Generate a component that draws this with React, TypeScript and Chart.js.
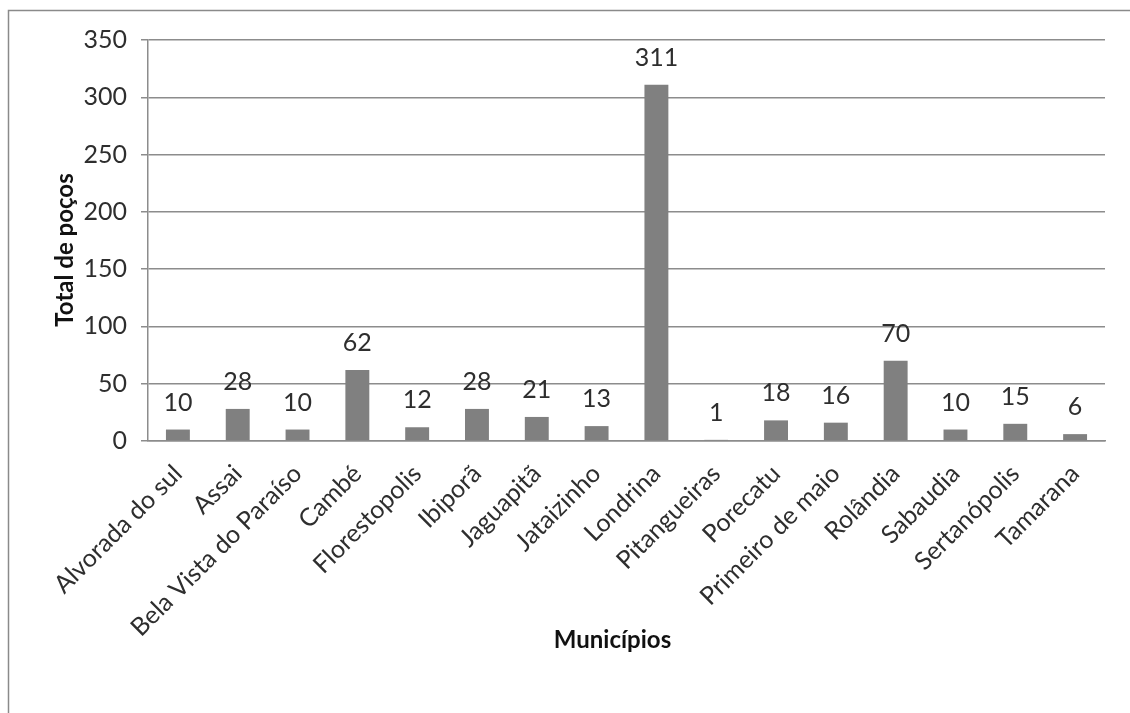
import React, { useEffect, useRef } from "react";
import { Chart, registerables } from "chart.js";

Chart.register(...registerables);

const categories = [
  "Alvorada do sul",
  "Assai",
  "Bela Vista do Paraíso",
  "Cambé",
  "Florestopolis",
  "Ibiporã",
  "Jaguapitã",
  "Jataizinho",
  "Londrina",
  "Pitangueiras",
  "Porecatu",
  "Primeiro de maio",
  "Rolândia",
  "Sabaudia",
  "Sertanópolis",
  "Tamarana",
];
const wellCounts = [10, 28, 10, 62, 12, 28, 21, 13, 311, 1, 18, 16, 70, 10, 15, 6];
const yTickValues = [0, 50, 100, 150, 200, 250, 300, 350];
const xTitle = "Municípios";
const yTitle = "Total de poços";

const FONT = "Lato, 'Open Sans', sans-serif";
const TEXT = "#2e2e2e";
const GRID = "#8c8c8c";

const decorPlugin = {
  id: "decor",
  beforeDraw(chart: any) {
    const ctx = chart.ctx;
    ctx.save();
    ctx.fillStyle = "#ffffff";
    ctx.fillRect(0, 0, chart.width, chart.height);
    ctx.strokeStyle = "#8a8a8a";
    ctx.lineWidth = 1.5;
    ctx.beginPath();
    ctx.moveTo(8.5, chart.height);
    ctx.lineTo(8.5, 10.5);
    ctx.lineTo(chart.width, 10.5);
    ctx.stroke();
    ctx.restore();
  },
  afterDatasetsDraw(chart: any) {
    const ctx = chart.ctx;
    const meta = chart.getDatasetMeta(0);
    const data = chart.data.datasets[0].data;
    ctx.save();
    ctx.fillStyle = TEXT;
    ctx.font = `25px ${FONT}`;
    ctx.textAlign = "center";
    ctx.textBaseline = "middle";
    meta.data.forEach((bar: any, i: number) => {
      ctx.fillText(String(data[i]), bar.x, bar.y - 27);
    });
    // axis titles
    const area = chart.chartArea;
    ctx.font = `bold 24px ${FONT}`;
    ctx.fillStyle = "#111111";
    ctx.fillText(xTitle, (area.left + area.right) / 2 - 14, 640);
    ctx.translate(65, 250);
    ctx.rotate(-Math.PI / 2);
    ctx.fillText(yTitle, 0, 0);
    ctx.restore();
  },
};

export default function App() {
  const ref = useRef<HTMLCanvasElement | null>(null);
  useEffect(() => {
    if (!ref.current) return;
    const chart = new Chart(ref.current, {
      type: "bar",
      data: {
        labels: categories,
        datasets: [
          {
            data: wellCounts,
            backgroundColor: "#808080",
            borderWidth: 0,
            barPercentage: 0.4,
            categoryPercentage: 1,
          },
        ],
      },
      options: {
        responsive: false,
        animation: false,
        devicePixelRatio: 1,
        layout: { padding: { left: 0, top: 40, right: 25, bottom: 0 } },
        plugins: {
          legend: { display: false },
          tooltip: { enabled: false },
          title: { display: false },
        },
        scales: {
          x: {
            grid: { display: false, drawTicks: false },
            border: { display: true, color: GRID, width: 1.5 },
            ticks: {
              color: TEXT,
              font: { family: FONT, size: 25 },
              minRotation: 45,
              maxRotation: 45,
              padding: 18,
            },
            afterFit(scale: any) {
              scale.height = 713 - 441;
            },
          },
          y: {
            min: 0,
            max: 350,
            afterBuildTicks(scale: any) {
              scale.ticks = yTickValues.map((v) => ({ value: v }));
            },
            grid: { color: GRID, lineWidth: 1.5, tickLength: 7, drawTicks: true },
            border: { display: true, color: GRID, width: 1.5 },
            ticks: {
              color: TEXT,
              font: { family: FONT, size: 25 },
              padding: 14,
            },
            afterFit(scale: any) {
              scale.width = 148;
            },
          },
        },
      },
      plugins: [decorPlugin],
    });
    return () => chart.destroy();
  }, []);
  return (
    <div style={{ position: "absolute", left: 0, top: 0, width: 1130, height: 713 }}>
      <canvas ref={ref} width={1130} height={713} />
    </div>
  );
}
